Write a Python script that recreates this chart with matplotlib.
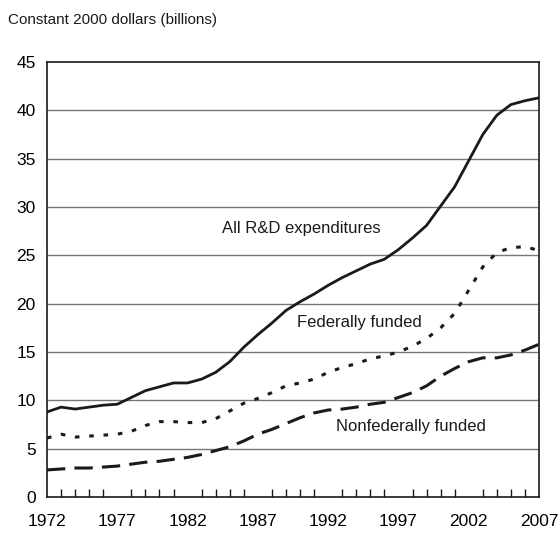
import matplotlib.pyplot as plt

years = list(range(1972, 2008))
all_rd = [8.8, 9.3, 9.1, 9.3, 9.5, 9.6, 10.3, 11.0, 11.4, 11.8, 11.8, 12.2, 12.9, 14.0,
          15.5, 16.8, 18.0, 19.3, 20.2, 21.0, 21.9, 22.7, 23.4, 24.1, 24.6, 25.6, 26.8,
          28.1, 30.1, 32.1, 34.8, 37.5, 39.5, 40.6, 41.0, 41.3]
federal = [6.1, 6.5, 6.2, 6.3, 6.4, 6.5, 6.8, 7.4, 7.8, 7.8, 7.7, 7.7, 8.1, 8.9,
           9.7, 10.2, 10.8, 11.5, 11.8, 12.2, 12.9, 13.4, 13.8, 14.3, 14.6, 15.0, 15.6,
           16.4, 17.5, 19.0, 21.4, 23.8, 25.3, 25.8, 25.9, 25.5]
nonfederal = [2.8, 2.9, 3.0, 3.0, 3.1, 3.2, 3.4, 3.6, 3.7, 3.9, 4.1, 4.4, 4.8, 5.2,
              5.8, 6.5, 7.0, 7.6, 8.2, 8.7, 9.0, 9.1, 9.3, 9.6, 9.8, 10.3, 10.8,
              11.5, 12.5, 13.3, 14.0, 14.4, 14.4, 14.7, 15.2, 15.8]
x_ticks = [1972, 1977, 1982, 1987, 1992, 1997, 2002, 2007]
y_ticks = [0, 5, 10, 15, 20, 25, 30, 35, 40, 45]

plt.rcParams["font.family"] = ["Liberation Sans", "DejaVu Sans"]

fig = plt.figure(figsize=(5.58, 5.35), dpi=100)
ax = fig.add_axes([0.0842, 0.071, 0.8818, 0.813])

for y in y_ticks[1:-1]:
    ax.axhline(y, color="#777777", lw=1.0, zorder=1)

ax.plot(years, all_rd, color="#1a1a1a", lw=2.0, zorder=3)
ax.plot(years, federal, color="#1a1a1a", lw=2.2, dashes=(1.5, 3.2), zorder=3)
ax.plot(years, nonfederal, color="#1a1a1a", lw=2.2, dashes=(6, 3), zorder=3)

ax.set_xlim(1972, 2007)
ax.set_ylim(0, 45)
ax.set_xticks(x_ticks)
ax.set_yticks(y_ticks)
ax.set_xticks(years, minor=True)
ax.tick_params(axis="x", which="major", length=0, pad=12, labelsize=12.5)
ax.tick_params(axis="x", which="minor", direction="in", length=6, width=1, color="#1a1a1a")
ax.tick_params(axis="y", which="major", length=0, pad=8, labelsize=12.5)
for s in ax.spines.values():
    s.set_color("#1a1a1a")
    s.set_linewidth(1.2)

ax.text(1984.45, 27.8, "All R&D expenditures", fontsize=12, va="center", color="#1a1a1a")
ax.text(1989.8, 18.1, "Federally funded", fontsize=12, va="center", color="#1a1a1a")
ax.text(1992.55, 7.3, "Nonfederally funded", fontsize=12, va="center", color="#1a1a1a")

fig.text(8 / 558, 1 - 20 / 535, "Constant 2000 dollars (billions)", fontsize=11,
         va="center", color="#1a1a1a")

fig.savefig("out.png", dpi=100)
